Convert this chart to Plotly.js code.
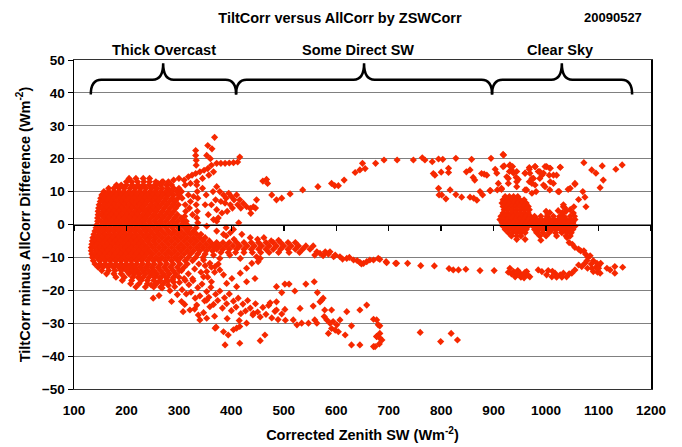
<!DOCTYPE html>
<html>
<head>
<meta charset="utf-8">
<script src="https://cdn.plot.ly/plotly-3.0.1.min.js"></script>
<style>html,body{margin:0;padding:0;background:#fff;}</style>
</head>
<body>
<div id="chart" style="width:682px;height:447px;"></div>
<script>
// ---------- DATA ----------
// Dense clusters as rows: [y, x1, x2, ...]
const overcastCoreRows = [
 [14, 205,218,232,244],
 [13, 200,210,221,233,244,256,268],
 [12, 181,190,200,211,222,232,243,254,265,276,286],
 [11, 166,176,186,196,207,217,227,237,248,258,268,279,290,300],
 [10, 157,166,176,185,195,205,215,225,235,245,255,265,275,285,296,305],
 [9, 153,162,171,181,190,200,210,220,230,240,250,260,270,280,290,300],
 [8, 151,158,167,176,186,195,205,215,225,235,245,255,265,276,287,298,306],
 [7, 150,155,163,172,181,191,200,210,220,230,240,250,260,271,282,293],
 [6, 148,158,167,177,186,196,205,215,225,235,246,256,266,277,288,299],
 [5, 147,153,162,172,181,191,201,210,220,230,241,251,261,272,283,294],
 [4, 146,157,167,176,186,196,206,216,225,236,246,257,268,279,290],
 [3, 146,152,162,171,181,191,201,211,221,231,241,252,263,274,285,297],
 [2, 145,157,166,176,186,196,206,216,226,236,247,258,269,280,292,304],
 [1, 145,151,161,171,181,191,201,211,221,231,242,253,264,275,287,298,309],
 [0, 144,156,166,176,186,196,206,216,226,236,247,258,269,281,293,305,315],
 [-1, 142,150,160,170,180,190,200,210,220,231,241,252,263,275,287,299,311,321],
 [-2, 140,145,155,165,175,185,195,205,215,225,236,246,257,268,280,292,304,316,328],
 [-3, 138,149,159,169,179,189,199,209,219,230,240,251,262,274,286,298,310,322,334,342],
 [-4, 136,144,154,164,174,184,194,204,214,224,235,245,256,268,280,292,304,316,328,340,350],
 [-5, 135,139,149,159,169,179,189,199,209,219,229,240,251,262,274,286,298,310,322,334,346,358],
 [-6, 134,144,154,164,174,184,194,204,214,224,234,245,256,268,280,292,304,316,328,340,352,364],
 [-7, 133,139,149,159,169,179,189,199,209,219,229,239,250,262,274,286,298,310,322,334,346,358,370],
 [-8, 133,144,154,164,174,184,194,204,214,224,234,244,256,268,280,292,304,316,328,340,352,364],
 [-9, 134,139,149,159,169,179,189,199,209,219,229,239,250,262,274,286,298,310,322,336,350],
 [-10, 135,144,154,164,174,184,194,204,214,224,234,245,256,268,280,292,304,318,332,346],
 [-11, 137,149,159,169,179,189,199,209,219,229,240,251,262,274,286,298,312,326],
 [-12, 140,150,160,170,180,190,200,210,220,231,242,253,265,277,289,302,316],
 [-13, 146,155,165,175,185,195,205,215,226,237,248,260,272,284,297,310],
 [-14, 153,166,178,190,200,210,220,231,242,253,265,277,289,301],
 [-15, 162,176,190,205,215,225,236,247,258,270,282,294],
 [-16, 180,196,212,222,232,243,254,266,278,290],
 [-17, 192,210,228,240,252,264,276],
 [-18, 208,224,240,256,270],
 [-19, 218,236,252,265]
];

const midBandRows = [
 [-5.5, 372,384,396,410,424,438,452,466,480,494,508,522],
 [-6.5, 366,378,390,403,416,430,444,458,472,486,500,514,528,542,556],
 [-7.5, 372,384,396,410,424,438,452,466,480,494,508,522,536,550],
 [-8.5, 380,394,408,424,440,456,472,490,510,530]
];

const clearCoreARows = [
 [8.5, 922,930,938,946],
 [7.5, 918,926,934,942,950,958],
 [6.5, 916,922,930,938,946,954,962],
 [5.5, 918,926,934,942,950,958,966],
 [4.5, 920,928,936,944,952,960,968],
 [3.5, 918,926,934,942,950,958,966],
 [2.5, 914,922,930,938,946,954,962,970],
 [1.5, 912,918,926,934,942,950,958,966],
 [0.5, 916,922,930,938,946,954,962,970],
 [-0.5, 918,926,934,942,950,958,966],
 [-1.5, 922,930,938,946,954,962],
 [-2.5, 928,936,944,952,960],
 [-3.5, 934,944,952],
 [-4.5, 944]
];

const clearCoreBRows = [
 [2.5, 978,990,1002,1014,1026,1034,1046,1054],
 [1.5, 975,983,991,999,1007,1015,1023,1031,1039,1047,1055],
 [0.5, 972,979,987,995,1003,1011,1019,1027,1035,1043,1051],
 [-0.5, 975,983,991,999,1007,1015,1023,1031,1039,1047,1055],
 [-1.5, 978,987,995,1003,1011,1019,1027,1035,1043,1051],
 [-2.5, 982,994,1006,1018,1030,1040,1048],
 [-3.5, 988,1000,1020,1038,1046]
];

// Scattered points as [x, y] pairs
const overcastSpurPts = [
 [300,14],[310,13.5],[318,14.5],[325,15],[332,15.5],[340,16],[348,16.5],[355,17],[362,18],
 [312,12],[322,12.5],[334,13],[345,14],[357,15],[366,16],[290,13.5],[280,13],[270,13],[260,12.5],
 [355,24],[363,23],[353,21],[360,20],[368,26.5],[332,22.5],[332,21],[333,19.5],[333,18],
 [372,18.6],[380,18.6],[388,18.6],[396,18.7],[404,18.8],[412,19],[416,20.5],
 [334,12],[335,10],[336,8],[333,6],[335,4],[334,2],[336,0.5],[333,-1],
 [312,6],[313,4],[311,2.5],[314,1],[312,-0.5],
 [318,9],[322,7],[320,5],[326,3],[328,8.5],
 [365,10],[372,11.5],[378,10],[385,9],[390,8],[395,9.5],[400,8.5],[405,7.5],[410,9],
 [398,6],[388,6.5],[380,7],[370,7.5],[362,6],[372,4.5],[382,3.5],[392,4],[402,5],[412,6],[418,5],
 [375,2],[366,1.5],[356,3],[350,6],[352,9],[345,11],
 [416,7.5],[423,6.4],[429,5.4],[436,4.9],[442,5.4],[437,3.4],[446,5],
 [353,-0.5],[372,1],[390,-1],[404,-1.5],[414,0.5],
 [372,-2],[385,-3],[398,-2.5],[390,-3.5],[405,-4.5],[420,-3],[436,-4],[450,-4.5],[462,-4],[476,-5],[490,-4.8]
];

const midBandPts = [
 [559,-9.3],[569,-8.8],[579,-8.3],[588,-8.3],[598,-9.3],[607,-9.8],[620,-10.3],[633,-10.8],
 [645,-11.5],[652,-11.8],[658,-11.3],[671,-10.8],[683,-10.6],[696,-11.6],[715,-11.8],
 [563,-8.3],[575,-9.5],[585,-9],[595,-9.8],[612,-10.5],[625,-10],[640,-11],[648,-12],
 [664,-10.8],[680,-10.3],[695,-11.3],[713,-11.8],[736,-11.8],[761,-12.5],[787,-12.6],
 [815,-13.4],[823,-13.8],[833,-13.8],[847,-13.6],[874,-14],[901,-14]
];

const subBandPts = [
 [347,-10.8],[359,-11.8],[369,-12.8],[353,-14.3],[378,-13.8],[385,-15.3],[401,-16.4],[417,-14.8],
 [429,-13.3],[439,-11.8],[448,-9.8],[451,-11.3],[455,-10.3],[417,-10.3],[397,-9.3],[378,-10.3],
 [366,-9.3],[347,-15.9],[362,-17.4],[391,-17.9],[410,-18.9],[429,-17.4],[445,-16.4],
 [305,-14],[318,-15],[330,-13.5],[342,-14.5],[355,-16],[312,-17],[326,-16.5],[300,-16],
 [290,-17.5],[280,-18.5],[338,-12],[350,-12.5],[362,-13],[375,-12],[368,-14.5]
];

const lowerFanPts = [
 [252,-15.2],[258,-17.8],[263,-16.1],[268,-19.3],[274,-15.8],[279,-17.2],[283,-20.1],[288,-16.7],
 [292,-18.9],[297,-21.3],[301,-17.6],[306,-19.8],[310,-16.4],[314,-21.1],[319,-18.3],[323,-20.6],
 [327,-17.1],[331,-22.4],[336,-19.2],[340,-21.7],[344,-18.1],[349,-23.2],[353,-20.4],[357,-22.1],
 [361,-19.1],[366,-24.3],[370,-21.2],[374,-23.1],[378,-20.2],[383,-25.4],[387,-22.3],[391,-24.1],
 [396,-21.1],[400,-26.2],[404,-23.3],[409,-25.1],[413,-22.4],[418,-27.1],[422,-24.2],[427,-26.3],
 [431,-23.1],[436,-25.4],[441,-27.5],[446,-24.1],[450,-26.6],[455,-28.1],[460,-25.2],[466,-27.3],
 [471,-24.6],[477,-28.4],[483,-26.4],[489,-28.9],[496,-27.2],[503,-29.1],
 [262,-21.6],[286,-23.4],[311,-24.3],[247,-18.4],[330,-25.7],[347,-26.8],[368,-27.9],[392,-28.6],[415,-29.2],
 [251,-22.4],[305,-23.4],[308,-26.5],[321,-26],[334,-24.5],[337,-27.5],[340,-29],[353,-23],[359,-25],[369,-31.5],
 [502,-18.1],[510,-18.1],[542,-18.1],[558,-17.4],[486,-18.9],[496,-20.7],[521,-20.2],[564,-20.7],
 [474,-23.8],[486,-23.5],[502,-25.8],[531,-25.5],[556,-24.8],[569,-23.5],[572,-23],[575,-22.4],
 [578,-26],[591,-26],[620,-26.5],[645,-26],[658,-24.5],[671,-28.8],[683,-30.8],
 [518,-29],[525,-30.5],[534,-30],[547,-30],[559,-29],[563,-30],
 [577,-28],[582,-29],[588,-30],[594,-29.5],[601,-30.5],[591,-31.6],[598,-32.1],[604,-32.6],
 [585,-33.1],[607,-29],[617,-33.6],[629,-36.6],[645,-36.6],[629,-30.8],[671,-37.1],
 [677,-34],[683,-34.5],[687,-35.1],
 [353,-28.5],[371,-31.2],[388,-36.6],[385,-32.6],[394,-33.6],[404,-32],[410,-31.5],[416,-31],
 [416,-36.1],[429,-30],[455,-35.3],[464,-33.6],[486,-26],[442,-27],
 [677,-29],[680,-30.5],[677,-34.1],[683,-33.1],[674,-37.1],[682,-36.3],
 [760,-32.8],[799,-35.6],[819,-33.1],[831,-35.1]
];

const directUpperPts = [
 [448,7.5],[460,13.2],[467,13.7],[469,12.5],[477,9],[486,7.5],[496,8],[512,9.3],[536,10.5],
 [565,11.5],[591,12.5],[597,11.8],[604,11.8],[615,13.5],[636,15.8],[645,16.6],[650,18.6],
 [655,17],[675,18.6],
 [691,19.6],[716,19.6],[747,19.6],[764,20.3],[769,19.6],[783,19.1],[795,19.9],[803,19.8],
 [828,20.1],[858,19.8],[895,20.1],[918,21.3],
 [785,15.5],[788,15],[800,15.9],[814,17.1],[814,15.8],[848,16],[855,16.6],[861,14.3],[864,13.5],
 [877,15.5],[882,15.3],[887,15],[903,16.8],[906,15.6],[909,12.5],[893,10.3],[874,10],
 [795,11],[796,9],[801,9],[809,7.8],[817,10.5],[828,9.1],[839,8.3],[855,8.3],[862,8],[868,7.4],
 [879,9],[894,10.3],[907,10.5],[915,10.7]
];

const clearScatterPts = [
 [918,17.6],[931,18.1],[934,16.6],[944,16.1],[960,15.6],[968,16.8],[973,14],[979,17.6],[985,16.1],
 [992,15],[998,17.6],[1008,17.1],[1014,15],[1027,17.4],[968,13],[979,12],[963,10.5],[995,12],
 [1008,13],[1023,10],[1046,11],[1055,12.5],[944,13],[928,12.5],[925,14.5],
 [919,21.1],[920,17.8],[931,17.8],[936,17.6],[930,16.1],[938,15.6],[943,14.3],[928,14],[947,13.7],
 [944,11.5],[915,11],[960,15.6],[968,17.3],[979,17.6],[969,15.6],[976,14],[973,12.5],[988,16.1],
 [995,15.6],[1001,17.6],[1007,17.1],[1006,15],[1014,12.5],[1020,15],[1027,17.4],[988,14],
 [998,11.5],[1007,10.5],[981,10],[973,9.5],[960,10.5],
 [1025,10],[1042,10.7],[1055,12.2],[1070,10],[1074,8.3],[1076,5.4],[1062,7.6],[1072,18.8],
 [1087,16.6],[1095,15.6],[1107,17.8],[1109,13.5],[1103,11.2],[1133,16.8],[1145,18.1],
 [1053,5.4],[1033,5.4],[1023,4.2],[1007,3.6],[1033,6],[1036,5],[1038,4],[1031,3.6],[1046,4.5],
 [1052,3.5],[1000,4],[1003,3.2],[960,-4.5],[990,-4.8]
];

const clearTailPts = [
 [1040,-4],[1044,-5.5],[1050,-6],[1055,-7],[1062,-7.5],[1066,-8],[1072,-8],[1075,-9],[1080,-10],
 [1084,-9.5],[1078,-11],[1086,-12],[1090,-11],[1095,-13],[1100,-12.5],[1098,-14.5],[1104,-11.8]
];

const clearLowPts = [
 [931,-13.3],[938,-14.3],[944,-15.3],[950,-14.8],[957,-15.3],[963,-14.3],[969,-15.9],[941,-15.9],
 [985,-13.8],[992,-14.3],[1001,-15.3],[1011,-15.9],[1017,-14.8],[1027,-15.3],[1033,-14.8],
 [1039,-15.9],[1049,-14.8],[1055,-13.8],[1062,-12.3],[1068,-12.8],[1074,-11.8],[1079,-13.3],
 [1087,-13.3],[1090,-14.3],[1097,-11.8],[1100,-13.3],[1103,-14.8],[1116,-13.3],[1122,-13.8],
 [1131,-12.8],[1131,-14.8],[1146,-13],
 [934,-15],[946,-14],[952,-16],[960,-14.5],[966,-15.5],[928,-14.5],[958,-16.2],[1004,-14],
 [1020,-16],[1030,-16],[1012,-14.2],[1044,-15]
];

// Sky-condition brackets along the top
const regionNames = ['Thick Overcast', 'Some Direct SW', 'Clear Sky'];
const regionStart = [132, 409, 897];
const regionEnd = [409, 897, 1164];
const regionPeak = [270, 653, 1030];
const regionLabelX = [272, 641, 1027];

const xTickVals = [100,200,300,400,500,600,700,800,900,1000,1100,1200];
const yTickVals = [-50,-40,-30,-20,-10,0,10,20,30,40,50];

// ---------- BUILD ----------
const xs = [], ys = [];
function addRows(rows){ rows.forEach(r => { for (let i = 1; i < r.length; i++){ xs.push(r[i]); ys.push(r[0]); } }); }
function addPts(pts){ pts.forEach(p => { xs.push(p[0]); ys.push(p[1]); }); }
addRows(overcastCoreRows); addRows(midBandRows); addRows(clearCoreARows); addRows(clearCoreBRows);
addPts(overcastSpurPts); addPts(midBandPts); addPts(subBandPts); addPts(lowerFanPts);
addPts(directUpperPts); addPts(clearScatterPts); addPts(clearTailPts); addPts(clearLowPts);

const FONT = 'Liberation Sans, Arial, Helvetica, sans-serif';
const RED = '#F62800';

const traces = [
 { type:'scatter', mode:'markers', x: xs, y: ys, xaxis:'x', yaxis:'y',
   marker:{ symbol:'diamond', size:5.5, color:RED, line:{width:0} }, hoverinfo:'x+y', showlegend:false },
 { type:'scatter', mode:'markers', x: [], y: [], xaxis:'x2', yaxis:'y', hoverinfo:'skip', showlegend:false }
];

const shapes = regionNames.map((n, i) => {
 const s = regionStart[i], e = regionEnd[i], p = regionPeak[i];
 const path = `M ${s},39.5 Q ${s},44 ${s+20},44 L ${p-20},44 Q ${p},44 ${p},49 ` +
              `Q ${p},44 ${p+20},44 L ${e-20},44 Q ${e},44 ${e},39.5`;
 return { type:'path', xref:'x', yref:'y', path: path, line:{color:'#000', width:2.5} };
});

const annotations = regionNames.map((n, i) => ({
 text: n, xref:'x', yref:'paper', x: regionLabelX[i], y: 1.03, xanchor:'center', yanchor:'middle',
 showarrow:false, font:{family:FONT, size:14.5, weight:'bold', color:'#000'}
}));
annotations.push({ text:'20090527', xref:'paper', yref:'paper', x:0.934, y:1.128,
 xanchor:'center', yanchor:'middle', showarrow:false, font:{family:FONT, size:13, weight:'bold', color:'#000'} });

const layout = {
 width:682, height:447,
 margin:{l:74, r:31, t:60, b:58, pad:0},
 paper_bgcolor:'#fff', plot_bgcolor:'#fff',
 font:{family:FONT, color:'#000'},
 showlegend:false,
 title:{ text:'TiltCorr versus AllCorr by ZSWCorr', xref:'container', yref:'container',
   x:0.4985, xanchor:'center', y:0.96, yanchor:'middle', font:{family:FONT, size:14.5, weight:'bold', color:'#000'} },
 xaxis:{ range:[100,1200], tickmode:'array', tickvals:xTickVals, showgrid:false, zeroline:false,
   showline:true, mirror:true, linecolor:'#333', linewidth:1,
   ticks:'outside', ticklen:9, tickcolor:'rgba(0,0,0,0)', automargin:false,
   tickfont:{family:FONT, size:13.5, weight:'bold', color:'#000'},
   title:{ text:'Corrected Zenith SW (Wm<sup>-2</sup>)', standoff:12, font:{family:FONT, size:14.5, weight:'bold', color:'#000'} } },
 xaxis2:{ overlaying:'x', anchor:'free', position:0.5, side:'bottom', range:[100,1200],
   tickmode:'array', tickvals:xTickVals, showgrid:false, zeroline:false, showline:true,
   linecolor:'#000', linewidth:1.5, ticks:'outside', ticklen:5, tickwidth:1.5, tickcolor:'#000',
   showticklabels:false, automargin:false },
 yaxis:{ range:[-50,50], tickmode:'array', tickvals:yTickVals, showgrid:true, gridcolor:'#808080', gridwidth:1,
   zeroline:false, showline:true, mirror:true, linecolor:'#000', linewidth:1.5,
   ticks:'outside', ticklen:5, tickcolor:'#000', automargin:false,
   tickfont:{family:FONT, size:13.5, weight:'bold', color:'#000'},
   title:{ text:'TiltCorr minus AllCorr Difference (Wm<sup>-2</sup>)', standoff:8, font:{family:FONT, size:14.5, weight:'bold', color:'#000'} } },
 shapes: shapes,
 annotations: annotations
};

Plotly.newPlot('chart', traces, layout, {displayModeBar:false, staticPlot:true});
</script>
</body>
</html>
